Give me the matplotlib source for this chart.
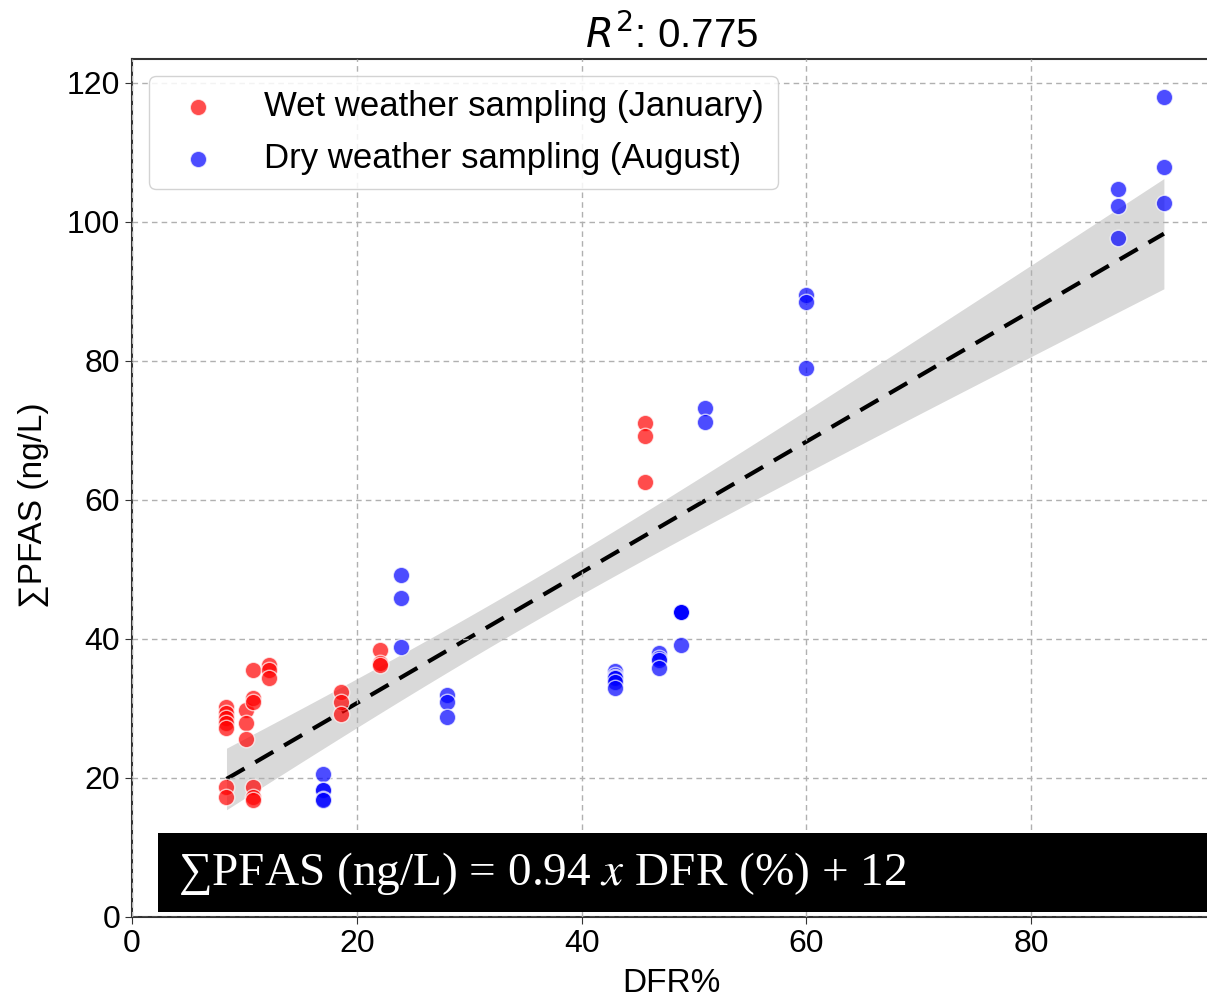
import numpy as np
import matplotlib
matplotlib.use("Agg")
import matplotlib.pyplot as plt
from matplotlib.patches import Rectangle

# ---- data (overlapping dots counted from darker spots) ----
WET_X = [8.4] * 7 + [10.1] * 3 + [10.8] * 6 + [12.2] * 3 + [18.6] * 3 + [22.1] * 3 + [45.6] * 3
WET_Y = [30.2, 29.4, 28.6, 27.9, 27.2, 18.7, 17.3,
         29.8, 27.9, 25.6,
         35.5, 31.5, 30.9, 18.7, 17.3, 16.8,
         36.3, 35.5, 34.4,
         32.4, 30.9, 29.2,
         38.4, 36.5, 36.2,
         71.1, 69.2, 62.5]

DRY_X = ([17.0] * 5 + [23.9] * 3 + [28.0] * 3 + [43.0] * 6 + [46.9] * 4 + [48.8] * 5
         + [51.0] * 2 + [60.0] * 3 + [87.7] * 3 + [91.8] * 3)
DRY_Y = [20.6, 18.3, 18.3, 17.0, 16.8,
         49.2, 45.9, 38.8,
         31.9, 30.9, 28.8,
         35.4, 34.8, 34.5, 34.3, 33.8, 32.9,
         38.0, 37.2, 37.0, 35.8,
         43.9, 43.9, 43.9, 43.8, 39.1,
         73.2, 71.2,
         89.5, 88.5, 79.0,
         104.7, 102.3, 97.7,
         118.0, 107.9, 102.7]

LABELS = ["Wet weather sampling (January)", "Dry weather sampling (August)"]
TITLE = "$R^2$: 0.775"
EQUATION = "\u2211PFAS (ng/L) = 0.94 $x$ DFR (%) + 12"

plt.rcParams["font.family"] = ["Liberation Sans", "DejaVu Sans"]


def fit_with_ci(x, y, t=2.0, n_grid=100):
    """OLS fit + CI band of the mean line."""
    x = np.asarray(x, float)
    y = np.asarray(y, float)
    slope, icpt = np.polyfit(x, y, 1)
    grid = np.linspace(x.min(), x.max(), n_grid)
    pred = icpt + slope * grid
    resid = y - (icpt + slope * x)
    n = len(x)
    s = np.sqrt(np.sum(resid ** 2) / (n - 2))
    sxx = np.sum((x - x.mean()) ** 2)
    se = s * np.sqrt(1.0 / n + (grid - x.mean()) ** 2 / sxx)
    return grid, pred, pred - t * se, pred + t * se


fig = plt.figure(figsize=(12.07, 9.98), dpi=100)
ax = fig.add_axes([0.1094, 0.0812, 0.894, 0.8597])

ax.scatter(WET_X, WET_Y, s=140, color="red", alpha=0.7, edgecolor="white",
           linewidth=1, label=LABELS[0], zorder=3)
ax.scatter(DRY_X, DRY_Y, s=140, color="blue", alpha=0.7, edgecolor="white",
           linewidth=1, label=LABELS[1], zorder=3)

grid, pred, lo, hi = fit_with_ci(WET_X + DRY_X, WET_Y + DRY_Y)
ax.fill_between(grid, lo, hi, color="black", alpha=0.15, linewidth=0, zorder=1)
ax.plot(grid, pred, color="black", linestyle=(0, (5, 3)), linewidth=3, zorder=2)

ax.set_xlim(0, 96)
ax.set_ylim(0, 123.4)
ax.set_xticks([0, 20, 40, 60, 80])
ax.set_yticks([0, 20, 40, 60, 80, 100, 120])
ax.tick_params(labelsize=23, length=5, color="#333333")
ax.set_axisbelow(False)
ax.grid(True, linestyle=(0, (4, 3)), color="#b0b0b0", linewidth=1, zorder=2.5)
for sp in ax.spines.values():
    sp.set_color("#333333")
    sp.set_linewidth(1.5)

ax.set_xlabel("DFR%", fontsize=24, labelpad=7)
ax.set_ylabel("\u2211PFAS (ng/L)", fontsize=24)
ax.yaxis.set_label_coords(-0.077, 0.48)
ax.set_title(TITLE, fontsize=29, pad=8)

ax.legend(loc="upper left", fontsize=25, handletextpad=0.9, borderpad=0.4,
          labelspacing=0.55, framealpha=0.85, edgecolor="#cccccc",
          bbox_to_anchor=(0.0, 1.0))

ax.add_patch(Rectangle((2.3, 0.7), 100, 11.4, facecolor="black",
                       edgecolor="none", zorder=5))
ax.text(4.1, 6.2, EQUATION, fontsize=34, color="white",
        family=["Liberation Serif", "DejaVu Serif"], math_fontfamily="stix",
        va="center", ha="left", zorder=6)

fig.savefig("out.png", dpi=100)
